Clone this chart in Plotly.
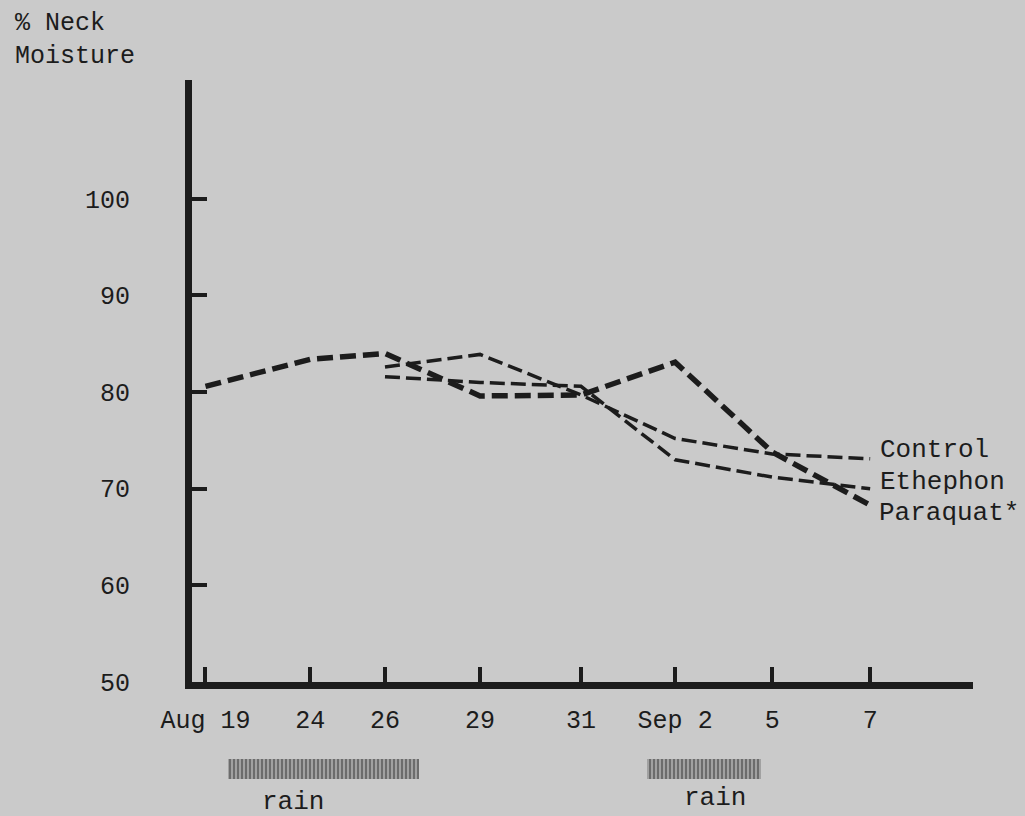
import plotly.graph_objects as go

# ---------------- data ----------------
dates = ["Aug 19", "24", "26", "29", "31", "Sep 2", "5", "7"]
# position of each sampling date along the (hand drawn) x axis
x_pos = [0.18, 1.26, 2.03, 3.01, 4.05, 5.02, 6.02, 7.03]

paraquat = [80.6, 83.4, 84.0, 79.6, 79.7, 83.1, 73.8, 68.3]   # all dates
control = [82.6, 83.9, 79.7, 75.2, 73.6, 73.1]                # from Aug 26
ethephon = [81.6, 81.0, 80.6, 73.0, 71.2, 70.0]               # from Aug 26

y_ticks = [50, 60, 70, 80, 90, 100]

rain_start = [0.41, 4.73]
rain_end = [2.38, 5.90]

# ---------------- style ----------------
INK = "#1c1c1c"
BG = "#cacaca"
FONT = "Liberation Mono"

fig = go.Figure()

fig.add_trace(go.Scatter(x=x_pos[2:], y=control, mode="lines", name="Control",
                         line=dict(color=INK, width=3.5, dash="15px,6px"),
                         showlegend=False, hoverinfo="skip"))
fig.add_trace(go.Scatter(x=x_pos[2:], y=ethephon, mode="lines", name="Ethephon",
                         line=dict(color=INK, width=3.5, dash="15px,6px"),
                         showlegend=False, hoverinfo="skip"))
fig.add_trace(go.Scatter(x=x_pos, y=paraquat, mode="lines", name="Paraquat*",
                         line=dict(color=INK, width=5.5, dash="16px,7px"),
                         showlegend=False, hoverinfo="skip"))

# rain periods (hatched bars under the axis)
fig.add_trace(go.Bar(
    x=[(s + e) / 2 for s, e in zip(rain_start, rain_end)],
    y=[1] * len(rain_start),
    width=[e - s for s, e in zip(rain_start, rain_end)],
    base=0, xaxis="x", yaxis="y2", showlegend=False, hoverinfo="skip",
    marker=dict(color=BG, line=dict(width=0),
                pattern=dict(shape="|", size=4, solidity=0.72,
                             fgcolor="#0d0d0d", bgcolor=BG)),
))

labels = [("Control", x_pos[-1], control[-1], 8, 9),
          ("Ethephon", x_pos[-1], ethephon[-1], 8, 7),
          ("Paraquat*", x_pos[-1], paraquat[-1], 7, -8)]
annotations = []
for txt, xv, yv, xs, ys in labels:
    annotations.append(dict(x=xv, y=yv, xref="x", yref="y", text=txt, showarrow=False,
                            xanchor="left", yanchor="middle", xshift=xs, yshift=ys,
                            font=dict(family=FONT, size=26, color=INK)))

for s, e, xs, ys in zip(rain_start, rain_end, [-30, 11], [0, 4]):
    annotations.append(dict(x=(s + e) / 2, y=-0.033, xref="x", yref="paper", text="rain",
                            showarrow=False, xanchor="center", yanchor="middle",
                            xshift=xs, yshift=ys,
                            font=dict(family=FONT, size=26, color=INK)))

annotations.append(dict(x=-0.229, y=1.105, xref="paper", yref="paper",
                        text="% Neck<br>Moisture", showarrow=False, align="left",
                        xanchor="left", yanchor="top",
                        font=dict(family=FONT, size=25, color=INK)))

axis_style = dict(showline=True, linewidth=7, linecolor=INK, ticks="inside",
                  ticklen=15, tickwidth=3.5, tickcolor=INK, showgrid=False,
                  zeroline=False, tickfont=dict(family=FONT, size=25, color=INK))

fig.update_layout(
    width=1025, height=816, autosize=False,
    paper_bgcolor=BG, plot_bgcolor=BG,
    margin=dict(l=192, r=52, t=80, b=37),
    xaxis=dict(range=[0.041, 8.09], tickvals=x_pos, ticktext=dates, tickangle=0,
               anchor="y", ticklabelstandoff=9, **axis_style),
    yaxis=dict(range=[50, 112.3], domain=[0.1388, 1], tickvals=y_ticks,
               ticklabelstandoff=50, **axis_style),
    yaxis2=dict(domain=[0, 0.0286], range=[0, 1], visible=False, anchor="free",
                position=0, fixedrange=True),
    annotations=annotations,
    bargap=0,
)

fig.write_html(
    "out.html",
    config={"displayModeBar": False},
    post_script="document.body.style.margin='0';document.body.style.overflow='hidden';"
                "document.body.style.background='" + BG + "';",
)
